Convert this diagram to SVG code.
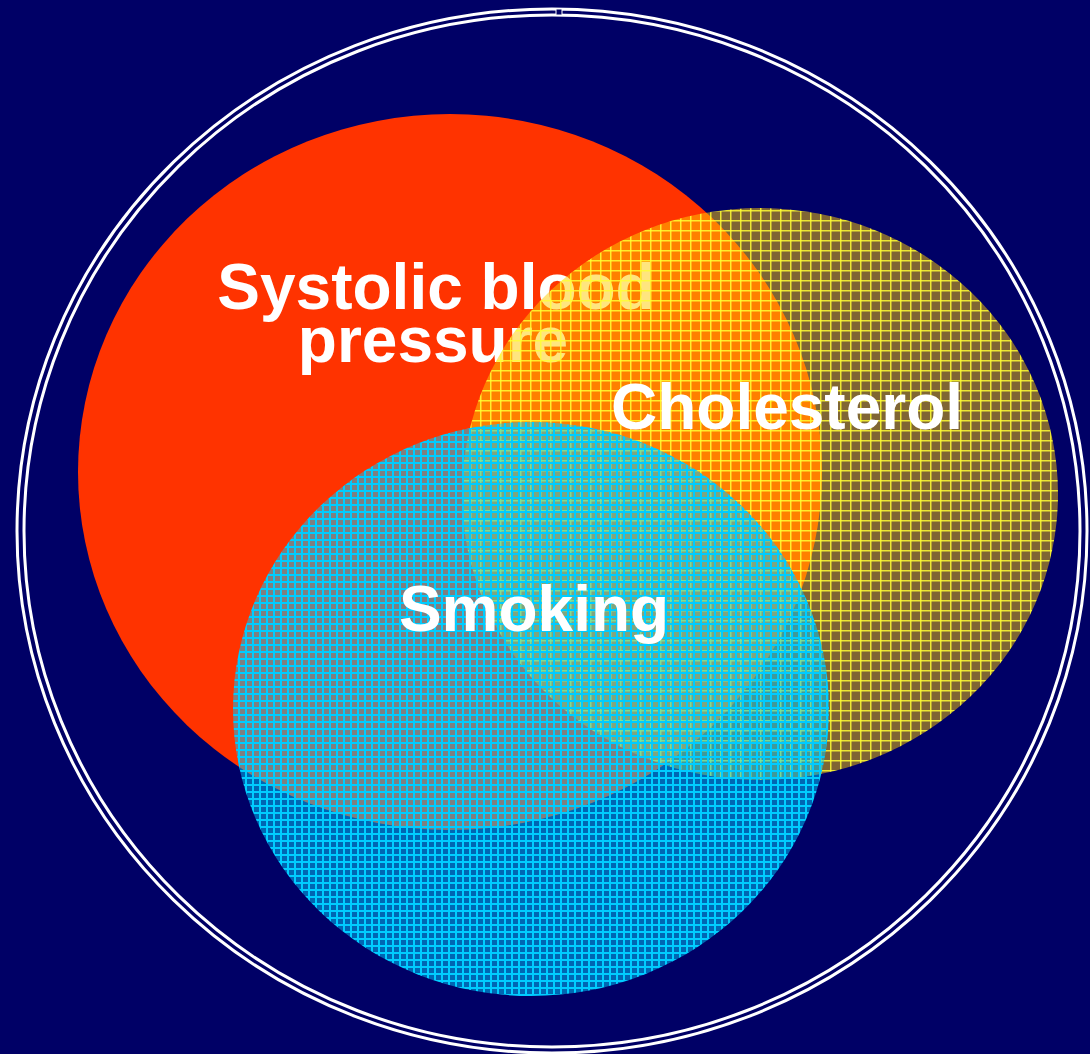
<svg xmlns="http://www.w3.org/2000/svg" width="1090" height="1054" viewBox="0 0 1090 1054">
<defs>
<style>
.lbl{font-family:"Liberation Sans",Arial,sans-serif;font-weight:bold;font-size:64px;fill:#ffffff;text-anchor:middle}
.ring{fill:none;stroke:#ffffff;stroke-width:3}
</style>
<pattern id="pY" width="10" height="10" patternUnits="userSpaceOnUse">
<rect width="10" height="10" fill="#ffcc00" fill-opacity="0.5"/>
<rect x="0" y="0" width="10" height="1.5" fill="#ffff33" fill-opacity="0.85"/>
<rect x="0" y="0" width="1.5" height="10" fill="#ffff33" fill-opacity="0.85"/>
</pattern>
<pattern id="pC" width="7" height="7" patternUnits="userSpaceOnUse">
<rect width="7" height="7" fill="#00ccff" fill-opacity="0.5"/>
<rect x="0" y="0" width="7" height="2" fill="#00ccff"/>
<rect x="0" y="0" width="2" height="7" fill="#00ccff"/>
</pattern>
</defs>
<rect width="1090" height="1054" fill="#000066"/>
<g id="frame">
<ellipse class="ring" cx="552" cy="531" rx="535" ry="522"/>
<ellipse class="ring" cx="552" cy="531" rx="528" ry="516"/>
<rect x="556" y="9" width="6" height="6" fill="#000066" stroke="#ffffff" stroke-width="1"/>
</g>
<g id="sbp">
<ellipse cx="450" cy="472" rx="372" ry="358" fill="#ff3300"/>
<text class="lbl" x="436" y="309">Systolic blood</text>
<text class="lbl" x="433" y="362">pressure</text>
</g>
<g id="cholesterol">
<ellipse cx="760" cy="494" rx="298" ry="286" fill="url(#pY)"/>
<text class="lbl" x="787" y="429">Cholesterol</text>
</g>
<g id="smoking">
<ellipse cx="531" cy="709" rx="298" ry="287" fill="url(#pC)"/>
<text class="lbl" x="534" y="631">Smoking</text>
</g>
<g id="connectors"/>
</svg>
